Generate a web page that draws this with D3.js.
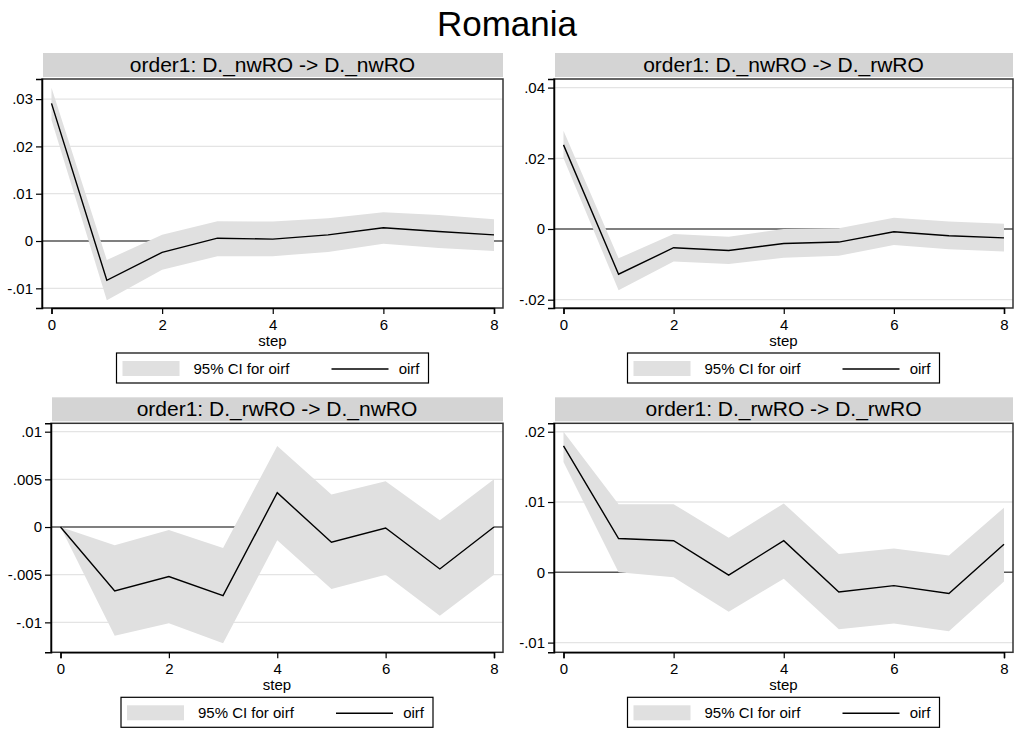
<!DOCTYPE html>
<html>
<head>
<meta charset="utf-8">
<script src="https://cdn.jsdelivr.net/npm/d3@7"></script>
<style>
  body { margin: 0; background: #fff; }
  svg { font-family: "Liberation Sans", Arial, sans-serif; }
</style>
</head>
<body>
<div id="chart"></div>
<script>
// steps of the impulse response
const steps = [0, 1, 2, 3, 4, 5, 6, 7, 8]
const xTicks = [0, 2, 4, 6, 8]

const panelTitles = [
  'order1: D._nwRO -> D._nwRO',
  'order1: D._nwRO -> D._rwRO',
  'order1: D._rwRO -> D._nwRO',
  'order1: D._rwRO -> D._rwRO'
]

// oirf and 95% CI
const oirfNwNw = [0.0291, -0.0083, -0.0024, 0.0006, 0.0004, 0.0013, 0.0028, 0.0020, 0.0013]
const upNwNw = [0.0324, -0.0040, 0.0013, 0.0042, 0.0041, 0.0048, 0.0061, 0.0055, 0.0046]
const lowNwNw = [0.0256, -0.0125, -0.0061, -0.0032, -0.0032, -0.0023, -0.0006, -0.0015, -0.0021]

const oirfNwRw = [0.0238, -0.0128, -0.0053, -0.0061, -0.0041, -0.0037, -0.0008, -0.0019, -0.0025]
const upNwRw = [0.0278, -0.0083, -0.0014, -0.0022, 0.0000, 0.0002, 0.0032, 0.0021, 0.0015]
const lowNwRw = [0.0200, -0.0173, -0.0092, -0.0099, -0.0081, -0.0076, -0.0045, -0.0057, -0.0064]

const oirfRwNw = [0, -0.0067, -0.0052, -0.0072, 0.0036, -0.0016, -0.0001, -0.0044, 0.0000]
const upRwNw = [0, -0.0019, -0.0003, -0.0022, 0.0085, 0.0034, 0.0048, 0.0007, 0.0050]
const lowRwNw = [0, -0.0114, -0.0101, -0.0122, -0.0014, -0.0065, -0.0050, -0.0093, -0.0050]

const oirfRwRw = [0.0180, 0.0048, 0.0045, -0.0004, 0.0045, -0.0028, -0.0019, -0.0030, 0.0040]
const upRwRw = [0.0200, 0.0097, 0.0097, 0.0049, 0.0098, 0.0026, 0.0034, 0.0024, 0.0092]
const lowRwRw = [0.0157, 0.0000, -0.0007, -0.0056, -0.0009, -0.0081, -0.0073, -0.0084, -0.0013]

const yTicks1 = [-0.01, 0, 0.01, 0.02, 0.03]
const yTicks2 = [-0.02, 0, 0.02, 0.04]
const yTicks3 = [-0.01, -0.005, 0, 0.005, 0.01]
const yTicks4 = [-0.01, 0, 0.01, 0.02]

const yTickLabels1 = ['-.01', '0', '.01', '.02', '.03']
const yTickLabels2 = ['-.02', '0', '.02', '.04']
const yTickLabels3 = ['-.01', '-.005', '0', '.005', '.01']
const yTickLabels4 = ['-.01', '0', '.01', '.02']

const width = 1014
const height = 729

const svg = d3.select('#chart').append('svg')
  .attr('width', width)
  .attr('height', height)

// main title
svg.append('text')
  .attr('x', 507)
  .attr('y', 36)
  .attr('text-anchor', 'middle')
  .attr('font-size', '35px')
  .attr('fill', '#000')
  .text('Romania')

// plot box of each panel and its y domain
const panels = [
  { title: panelTitles[0], oirf: oirfNwNw, up: upNwNw, low: lowNwNw, ticks: yTicks1, labels: yTickLabels1,
    box: { l: 42, r: 503, t: 79, b: 308 }, yDom: [-0.01416, 0.03425] },
  { title: panelTitles[1], oirf: oirfNwRw, up: upNwRw, low: lowNwRw, ticks: yTicks2, labels: yTickLabels2,
    box: { l: 554, r: 1013, t: 79, b: 308 }, yDom: [-0.02235, 0.04243] },
  { title: panelTitles[2], oirf: oirfRwNw, up: upRwNw, low: lowRwNw, ticks: yTicks3, labels: yTickLabels3,
    box: { l: 51, r: 503, t: 423.3, b: 652.3 }, yDom: [-0.01314, 0.01088] },
  { title: panelTitles[3], oirf: oirfRwRw, up: upRwRw, low: lowRwRw, ticks: yTicks4, labels: yTickLabels4,
    box: { l: 554, r: 1013, t: 423.3, b: 652.3 }, yDom: [-0.01138, 0.0212] }
]

panels.forEach(function (p) {
  let { l, r, t, b } = p.box
  let g = svg.append('g')

  let x = d3.scaleLinear().domain([0, 8]).range([l + 9.5, r - 9])
  let y = d3.scaleLinear().domain(p.yDom).range([b, t])

  // title bar
  g.append('rect')
    .attr('x', l + 1)
    .attr('y', t - 26)
    .attr('width', r - l - 1)
    .attr('height', 24)
    .attr('fill', '#d4d4d4')
  g.append('text')
    .attr('x', (l + r) / 2)
    .attr('y', t - 7)
    .attr('text-anchor', 'middle')
    .attr('font-size', '21px')
    .attr('fill', '#000')
    .text(p.title)

  // gridlines
  g.selectAll('line.grid')
    .data(p.ticks.filter(d => d !== 0))
    .enter()
    .append('line')
    .attr('x1', l)
    .attr('x2', r)
    .attr('y1', d => y(d))
    .attr('y2', d => y(d))
    .attr('stroke', '#e4e4e4')
    .attr('stroke-width', 1.3)

  // zero line
  g.append('line')
    .attr('x1', l)
    .attr('x2', r)
    .attr('y1', y(0))
    .attr('y2', y(0))
    .attr('stroke', '#555')
    .attr('stroke-width', 1.5)

  // CI band
  let area = d3.area()
    .x((d, i) => x(steps[i]))
    .y0((d, i) => y(p.low[i]))
    .y1((d, i) => y(p.up[i]))
  g.append('path')
    .attr('d', area(steps))
    .attr('fill', '#e0e0e0')

  // oirf line
  let line = d3.line()
    .x((d, i) => x(steps[i]))
    .y((d, i) => y(p.oirf[i]))
  g.append('path')
    .attr('d', line(steps))
    .attr('fill', 'none')
    .attr('stroke', '#000')
    .attr('stroke-width', 1.4)

  // plot box
  g.append('rect')
    .attr('x', l)
    .attr('y', t)
    .attr('width', r - l)
    .attr('height', b - t)
    .attr('fill', 'none')
    .attr('stroke', '#333')
    .attr('stroke-width', 1.5)

  // axes
  let yAxis = d3.axisLeft(y)
    .tickValues(p.ticks)
    .tickSize(6)
    .tickPadding(3)
    .tickFormat((d, i) => p.labels[i])
  let ya = g.append('g')
    .attr('transform', `translate(${l}, 0)`)
    .call(yAxis)
  let xAxis = d3.axisBottom(x)
    .tickValues(xTicks)
    .tickSize(6)
    .tickPadding(5)
    .tickFormat(d3.format('d'))
  let xa = g.append('g')
    .attr('transform', `translate(0, ${b})`)
    .call(xAxis)

  ;[ya, xa].forEach(function (a) {
    a.select('.domain').attr('stroke', '#000').attr('stroke-width', 1.5)
    a.selectAll('.tick line').attr('stroke', '#000').attr('stroke-width', 1.2)
    a.selectAll('.tick text')
      .attr('font-family', '"Liberation Sans", Arial, sans-serif')
      .attr('font-size', '15px')
      .attr('fill', '#000')
  })

  // x title
  g.append('text')
    .attr('x', (l + r) / 2)
    .attr('y', b + 38)
    .attr('text-anchor', 'middle')
    .attr('font-size', '15px')
    .attr('fill', '#000')
    .text('step')

  // legend
  let lw = 312
  let lx = (l + r) / 2 - lw / 2
  let ly = b + 45
  let leg = g.append('g').attr('transform', `translate(${lx}, ${ly})`)
  leg.append('rect')
    .attr('x', 0)
    .attr('y', 0)
    .attr('width', lw)
    .attr('height', 30)
    .attr('fill', '#fff')
    .attr('stroke', '#000')
    .attr('stroke-width', 1.2)
  leg.append('rect')
    .attr('x', 6)
    .attr('y', 8)
    .attr('width', 57)
    .attr('height', 15)
    .attr('fill', '#e0e0e0')
  leg.append('text')
    .attr('x', 77)
    .attr('y', 21)
    .attr('font-size', '15px')
    .attr('fill', '#000')
    .text('95% CI for oirf')
  leg.append('line')
    .attr('x1', 215)
    .attr('x2', 272)
    .attr('y1', 16)
    .attr('y2', 16)
    .attr('stroke', '#000')
    .attr('stroke-width', 1.4)
  leg.append('text')
    .attr('x', lw - 9)
    .attr('y', 21)
    .attr('text-anchor', 'end')
    .attr('font-size', '15px')
    .attr('fill', '#000')
    .text('oirf')
})
</script>
</body>
</html>
